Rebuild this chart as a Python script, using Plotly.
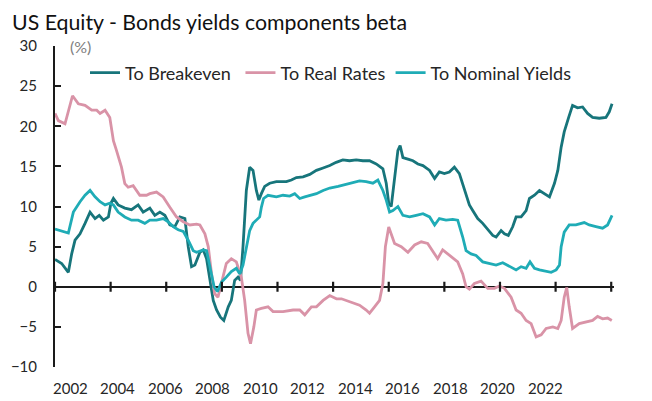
import plotly.graph_objects as go

# ---- data (decimal years, beta in %) ----
be_x = [2002.00, 2002.24, 2002.48, 2002.60, 2002.72, 2002.90, 2003.08, 2003.26, 2003.44, 2003.59, 2003.74, 2003.92,
        2004.01, 2004.10, 2004.27, 2004.51, 2004.75, 2004.99, 2005.17, 2005.41, 2005.59, 2005.77, 2005.95, 2006.13,
        2006.31, 2006.49, 2006.67, 2006.79, 2006.91, 2007.03, 2007.21, 2007.33, 2007.45, 2007.57, 2007.69, 2007.81,
        2007.95, 2008.07, 2008.23, 2008.34, 2008.46, 2008.58, 2008.67, 2008.76, 2008.88, 2009.00, 2009.12, 2009.24,
        2009.33, 2009.42, 2009.54, 2009.72, 2009.96, 2010.32, 2010.50, 2010.68, 2010.92, 2011.16, 2011.40, 2011.64,
        2011.88, 2012.11, 2012.35, 2012.59, 2012.83, 2013.07, 2013.31, 2013.55, 2013.79, 2013.91, 2014.00, 2014.09,
        2014.21, 2014.33, 2014.41, 2014.51, 2014.69, 2014.87, 2015.05, 2015.23, 2015.47, 2015.65, 2015.82, 2016.00,
        2016.18, 2016.36, 2016.54, 2016.72, 2016.90, 2017.02, 2017.20, 2017.38, 2017.56, 2017.74, 2017.86, 2018.04,
        2018.16, 2018.30, 2018.46, 2018.58, 2018.76, 2018.94, 2019.06, 2019.24, 2019.42, 2019.60, 2019.78, 2019.96,
        2020.08, 2020.20, 2020.31, 2020.47, 2020.61, 2020.79, 2020.97, 2021.15, 2021.33, 2021.57, 2021.81, 2021.93,
        2022.03]
be_y = [3.4, 2.9, 1.8, 4.1, 5.8, 6.6, 7.9, 9.3, 8.5, 8.9, 8.3, 8.7,
        10.4, 11.0, 10.2, 9.8, 9.6, 10.2, 9.3, 9.8, 8.9, 9.3, 8.9, 7.7,
        7.5, 8.7, 8.5, 5.0, 2.5, 2.7, 4.3, 4.6, 3.5, 0.8, -1.7, -2.9,
        -3.8, -4.2, -2.5, -1.7, 0.8, 1.2, 0.8, 5.0, 12.0, 14.9, 14.5, 12.0,
        10.8, 11.6, 12.5, 12.9, 13.1, 13.1, 13.3, 13.6, 13.7, 14.0, 14.5, 14.8,
        15.1, 15.5, 15.8, 15.7, 15.8, 15.7, 15.7, 15.3, 14.7, 12.9, 10.4, 10.0,
        13.3, 17.0, 17.6, 16.1, 15.9, 15.7, 15.3, 15.1, 14.5, 13.5, 14.3, 14.1,
        14.3, 14.9, 14.1, 12.0, 10.2, 9.5, 8.5, 7.9, 7.2, 6.4, 6.2, 7.0,
        6.6, 6.4, 7.5, 8.7, 8.7, 9.5, 11.0, 11.4, 12.0, 11.6, 11.2, 12.9,
        14.5, 17.4, 19.3, 21.1, 22.6, 22.3, 22.4, 21.6, 21.1, 21.0, 21.1, 21.8,
        22.8]

rr_x = [2002.00, 2002.12, 2002.36, 2002.63, 2002.84, 2003.08, 2003.32, 2003.50, 2003.62, 2003.80, 2003.97, 2004.10,
        2004.21, 2004.39, 2004.51, 2004.63, 2004.81, 2005.05, 2005.29, 2005.41, 2005.65, 2005.89, 2006.13, 2006.37,
        2006.61, 2006.85, 2007.09, 2007.21, 2007.39, 2007.51, 2007.63, 2007.74, 2007.86, 2007.98, 2008.16, 2008.34,
        2008.52, 2008.70, 2008.82, 2008.94, 2009.03, 2009.15, 2009.24, 2009.42, 2009.66, 2009.84, 2010.20, 2010.56,
        2010.80, 2010.98, 2011.22, 2011.40, 2011.64, 2011.88, 2012.12, 2012.30, 2012.59, 2012.95, 2013.19, 2013.31,
        2013.49, 2013.67, 2013.79, 2013.88, 2014.00, 2014.21, 2014.45, 2014.69, 2014.93, 2015.17, 2015.40, 2015.58,
        2015.76, 2015.94, 2016.18, 2016.48, 2016.66, 2016.78, 2016.90, 2017.08, 2017.32, 2017.56, 2017.80, 2017.98,
        2018.16, 2018.40, 2018.58, 2018.76, 2018.94, 2019.12, 2019.30, 2019.48, 2019.66, 2019.90, 2020.08, 2020.20,
        2020.31, 2020.40, 2020.49, 2020.61, 2020.85, 2021.09, 2021.33, 2021.51, 2021.69, 2021.87, 2022.02]
rr_y = [21.6, 20.7, 20.3, 23.8, 22.8, 22.6, 22.0, 22.0, 21.6, 22.0, 21.1, 18.2,
        17.0, 14.9, 12.85, 12.4, 12.6, 11.4, 11.4, 11.6, 11.8, 11.2, 9.9, 8.7,
        8.1, 7.7, 7.8, 7.7, 6.6, 5.0, 1.6, -0.85, -1.3, 0.4, 2.9, 3.5,
        3.1, 1.2, -1.7, -5.8, -7.1, -5.0, -2.9, -2.7, -2.5, -3.1, -3.1, -2.9,
        -2.9, -3.5, -2.5, -2.5, -1.7, -1.1, -1.5, -1.5, -1.9, -2.3, -2.9, -3.3,
        -2.5, -1.7, 0.4, 5.0, 7.45, 5.4, 5.0, 4.3, 5.2, 5.6, 5.4, 4.5,
        3.5, 4.6, 3.9, 3.1, 1.6, 0.0, -0.3, 0.4, 0.7, -0.2, -0.2, 0.1,
        -0.2, -1.3, -2.9, -3.3, -4.2, -4.6, -6.25, -6.0, -5.2, -5.0, -5.2, -4.2,
        -1.3, -0.1, -2.5, -5.2, -4.6, -4.4, -4.2, -3.7, -4.0, -3.9, -4.2]

ny_x = [2002.00, 2002.30, 2002.48, 2002.66, 2002.90, 2003.08, 2003.26, 2003.44, 2003.62, 2003.80, 2003.97, 2004.10,
        2004.27, 2004.51, 2004.75, 2004.99, 2005.23, 2005.41, 2005.65, 2005.89, 2006.07, 2006.25, 2006.43, 2006.61,
        2006.79, 2006.97, 2007.09, 2007.33, 2007.45, 2007.57, 2007.72, 2007.84, 2007.99, 2008.16, 2008.34, 2008.52,
        2008.64, 2008.76, 2008.88, 2009.00, 2009.12, 2009.24, 2009.36, 2009.42, 2009.50, 2009.66, 2009.96, 2010.20,
        2010.44, 2010.62, 2010.80, 2010.98, 2011.16, 2011.40, 2011.64, 2011.88, 2012.18, 2012.59, 2012.95, 2013.19,
        2013.43, 2013.61, 2013.79, 2013.91, 2014.03, 2014.15, 2014.33, 2014.51, 2014.75, 2014.99, 2015.23, 2015.47,
        2015.65, 2015.82, 2016.06, 2016.30, 2016.48, 2016.66, 2016.78, 2016.96, 2017.14, 2017.38, 2017.62, 2017.86,
        2018.10, 2018.34, 2018.58, 2018.76, 2018.94, 2019.08, 2019.24, 2019.42, 2019.66, 2019.84, 2020.02, 2020.14,
        2020.20, 2020.31, 2020.49, 2020.73, 2021.03, 2021.21, 2021.45, 2021.69, 2021.87, 2022.03]
ny_y = [7.2, 6.9, 6.7, 9.3, 10.6, 11.4, 12.0, 11.2, 10.6, 10.2, 10.4, 10.2,
        9.3, 8.7, 8.3, 8.3, 7.9, 8.3, 8.3, 8.5, 8.1, 7.5, 7.1, 6.9,
        5.8, 4.5, 4.3, 4.6, 4.5, 2.5, 0.0, -0.6, 0.6, 1.2, 1.9, 2.3,
        1.6, 2.7, 5.0, 7.0, 7.9, 8.3, 8.7, 9.9, 11.0, 11.4, 11.2, 11.4,
        11.3, 11.6, 11.0, 11.2, 11.4, 11.6, 12.0, 12.3, 12.5, 12.9, 13.2, 13.1,
        12.9, 13.3, 12.0, 10.8, 9.3, 9.5, 10.0, 8.9, 8.7, 8.9, 9.1, 8.7,
        7.7, 8.5, 8.3, 8.4, 8.3, 6.2, 4.5, 4.1, 3.9, 3.1, 2.9, 2.7,
        3.0, 2.5, 2.1, 2.5, 2.3, 3.1, 2.3, 2.1, 1.9, 1.8, 2.1, 2.7,
        5.0, 6.8, 7.7, 7.7, 8.0, 7.7, 7.5, 7.3, 7.7, 8.9]

tick_years = [2002, 2004, 2006, 2008, 2010, 2012, 2014, 2016, 2018, 2020, 2022]
tick_labels = [str(y) for y in tick_years]
y_ticks = [-10, -5, 0, 5, 10, 15, 20, 25, 30]
Y_MIN, Y_MAX = -10, 30
X_MIN, X_MAX = 2002, 2022.1

FONT = "Lato, 'Open Sans', sans-serif"
C_BE = "#17757B"
C_RR = "#D993A7"
C_NY = "#1FACB6"
C_AX = "#1a1a1a"
NB = "\u00a0"

W, H = 652, 401
L, R, T, B = 55, 38, 46, 34
pw = W - L - R
ph = H - T - B
TICK_HALF = 5.0 * (Y_MAX - Y_MIN) / ph   # 5 px expressed in y units

fig = go.Figure()
fig.add_trace(go.Scatter(x=be_x, y=be_y, mode="lines", name="To Breakeven" + NB,
                         line=dict(color=C_BE, width=2.8)))
fig.add_trace(go.Scatter(x=rr_x, y=rr_y, mode="lines", name="To Real Rates",
                         line=dict(color=C_RR, width=2.8)))
fig.add_trace(go.Scatter(x=ny_x, y=ny_y, mode="lines", name="To Nominal Yields",
                         line=dict(color=C_NY, width=2.8)))

# crossing tick marks on the zero line, placed on the data axes at each tick year
tick_shapes = [dict(type="line", xref="x", yref="y", x0=yr, x1=yr,
                    y0=-TICK_HALF, y1=TICK_HALF, layer="above",
                    line=dict(color=C_AX, width=2.2))
               for yr in tick_years]

# year labels sit offset from the tick marks in the source chart:
# first label centred at px 70, spaced 47.5 px apart
label_ann = [dict(text=lab, xref="paper", yref="paper",
                  x=(70 + 47.5 * i - L) / pw, y=-(388 - (H - B)) / ph,
                  xanchor="center", yanchor="middle", showarrow=False,
                  font=dict(family=FONT, size=15, color="#262626"))
             for i, lab in enumerate(tick_labels)]

fig.update_layout(
    width=W, height=H,
    margin=dict(l=L, r=R, t=T, b=B, autoexpand=False),
    paper_bgcolor="white", plot_bgcolor="white",
    font=dict(family=FONT, size=15, color="#262626"),
    showlegend=True,
    legend=dict(orientation="h", x=(85 - L) / pw, y=1 - (73 - T) / ph,
                xanchor="left", yanchor="middle",
                font=dict(size=18, color="#262626"), bgcolor="rgba(0,0,0,0)",
                itemwidth=30, tracegroupgap=0),
    xaxis=dict(range=[X_MIN, X_MAX], showline=False, showgrid=False, zeroline=False,
               showticklabels=False, ticks=""),
    yaxis=dict(range=[Y_MIN, Y_MAX], tickmode="array", tickvals=y_ticks,
               showline=True, linecolor=C_AX, linewidth=2,
               ticks="inside", ticklen=6, tickwidth=1.8, tickcolor=C_AX,
               showgrid=False, zeroline=True, zerolinecolor=C_AX, zerolinewidth=2,
               ticklabelstandoff=13, automargin=False,
               tickfont=dict(family=FONT, size=15, color="#262626")),
    shapes=tick_shapes,
    annotations=[
        dict(text="US Equity - Bonds yields components beta", xref="paper", yref="paper",
             x=(10 - L) / pw, y=1 + (T - 7) / ph, xanchor="left", yanchor="top",
             showarrow=False, font=dict(family=FONT, size=21.3, color="#111111")),
        dict(text="(%)", xref="paper", yref="paper", x=(68 - L) / pw, y=1.0,
             xanchor="left", yanchor="middle", showarrow=False,
             font=dict(family=FONT, size=16, color="#7f7f7f")),
    ] + label_ann,
)

fig.write_html("out.html", config={"displayModeBar": False},
               post_script="document.body.style.margin='0';")
